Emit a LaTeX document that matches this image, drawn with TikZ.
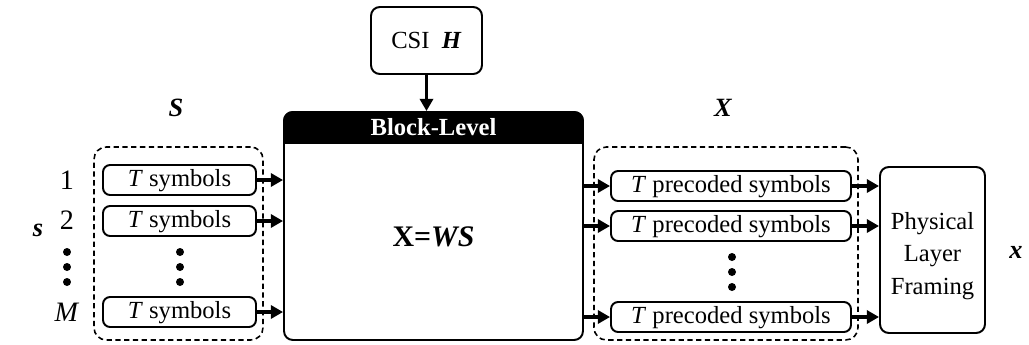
\documentclass[tikz,border=0pt]{standalone}
\usepackage{fontspec}
\setmainfont{Liberation Serif}
\usetikzlibrary{arrows.meta,calc}

\tikzset{
  box/.style={draw, line width=1.1pt, rounded corners=5pt, inner sep=0pt},
  symbox/.style={box, rounded corners=4pt, minimum width=3.06cm, minimum height=0.6cm,
                 text height=10pt, text depth=2.5pt},
  precbox/.style={symbox, minimum width=4.8cm},
  group/.style={draw, line width=0.9pt, dash pattern=on 3pt off 2pt, rounded corners=7pt, inner sep=0pt},
  arr/.style={-{Triangle[length=7pt,width=7.5pt]}, line width=1.8pt},
  vec/.style={font=\fontsize{15}{18}\selectfont\bfseries\itshape},
  idx/.style={font=\fontsize{16}{18}\selectfont}
}

\begin{document}
\begin{tikzpicture}[x=0.02cm,y=-0.02cm,font=\fontsize{14}{18}\selectfont]
\useasboundingbox (0,0) rectangle (1029,345);

% precoder block
\node[box, minimum width=5.98cm, minimum height=4.56cm] (blk) at (433.5,226) {};
\node[box, fill=black, minimum width=5.98cm, minimum height=0.62cm, anchor=north] (hdr) at (blk.north) {};
\fill (hdr.west) rectangle (hdr.south east);
\node[text=white, font=\fontsize{14}{18}\selectfont\bfseries] (hdrtxt) at (hdr.center) {Block-Level};
\node[font=\fontsize{17}{20}\selectfont\bfseries] (eq) at (433.5,237) {X=\textit{WS}};

% CSI
\node[box, minimum width=2.22cm, minimum height=1.34cm] (csi) at (426.5,40.5) {CSI\ \ \textbf{\textit{H}}};
\draw[arr] (csi.south) -- (csi.south |- hdr.north);

% input streams
\node[group, minimum width=3.38cm, minimum height=3.86cm] (grpS) at (178.5,243.5) {};
\node[vec] (lS) at (176,108) {S};
\node[vec] (ls) at (38,230) {s};
\node[symbox] (s1) at (179.5,180) {\textit{T} symbols};
\node[symbox] (s2) at (179.5,221) {\textit{T} symbols};
\node[symbox] (sM) at (179.5,312) {\textit{T} symbols};
\node[idx] (n1) at (67,180) {1};
\node[idx] (n2) at (67,220) {2};
\node[idx] (nM) at (67,312) {\textit{M}};
\foreach \y in {252,267,282} {
  \fill (67,\y) circle[radius=0.08cm];
  \fill (180,\y) circle[radius=0.08cm];
}
\foreach \s in {s1,s2,sM}
  \draw[arr] (\s.east) -- (\s.east -| blk.west);

% precoded streams
\node[group, minimum width=5.28cm, minimum height=3.86cm] (grpX) at (726,243.5) {};
\node[vec] (lX) at (723,108) {X};
\node[precbox] (p1) at (731,186) {\textit{T} precoded symbols};
\node[precbox] (p2) at (731,226) {\textit{T} precoded symbols};
\node[precbox] (pM) at (731,317) {\textit{T} precoded symbols};
\foreach \y in {257,272,287}
  \fill (732,\y) circle[radius=0.08cm];

% framing
\node[box, minimum width=2.1cm, minimum height=3.32cm] (plf) at (932.5,250) {};
\node[align=center, font=\fontsize{14}{18.5}\selectfont] (plftxt) at (932.5,256) {Physical\\Layer\\Framing};
\node[vec] (lx) at (1016,252) {x};

\foreach \p in {p1,p2,pM} {
  \draw[arr] (blk.east |- \p) -- (\p.west);
  \draw[arr] (\p.east) -- (\p.east -| plf.west);
}
\end{tikzpicture}
\end{document}
